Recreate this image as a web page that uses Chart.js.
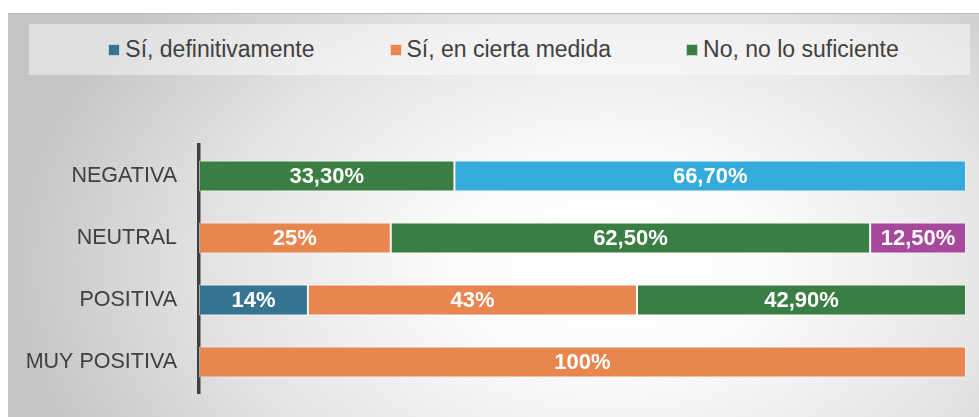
<!DOCTYPE html>
<html>
<head>
<meta charset="utf-8">
<script src="https://cdn.jsdelivr.net/npm/chart.js@4.4.1/dist/chart.umd.min.js"></script>
<style>
  html, body { margin: 0; padding: 0; background: #ffffff; }
  body { width: 979px; height: 417px; position: relative; overflow: hidden; font-family: "Liberation Sans", Arial, sans-serif; }
  #frame {
    position: absolute; left: 8px; top: 13px; width: 971px; height: 404px;
    background: radial-gradient(ellipse 62% 100% at 62% 62%, #ffffff 0%, #fcfcfc 25%, #e4e4e4 65%, #c5c5c5 100%);
    border-top: 1px solid #bcbcbc;
    box-sizing: border-box;
    overflow: hidden;
  }
  #legendBox {
    position: absolute; left: 21px; top: 10px; width: 941px; height: 51px;
    background: rgba(255,255,255,0.45);
    display: flex; align-items: center; justify-content: center; gap: 75px;
    padding-left: 8px; box-sizing: border-box;
  }
  .item { display: flex; align-items: center; font-size: 23px; color: #404040; white-space: nowrap; }
  .sw { width: 12px; height: 12px; margin-right: 5px; border: 1px solid rgba(255,255,255,0.7); box-sizing: border-box; }
  #c { position: absolute; left: 0; top: 0; }
</style>
</head>
<body>
<div id="frame">
  <div id="legendBox"></div>
  <canvas id="c" width="971" height="414"></canvas>
</div>
<script>
// ---- data ----
const categories = ["NEGATIVA", "NEUTRAL", "POSITIVA", "MUY POSITIVA"];
const seriesNames = ["Sí, definitivamente", "Sí, en cierta medida", "No, no lo suficiente", "Serie 4", "Serie 5"];
const defValues   = [null, null, 14.2, null];
const medValues   = [null, 25, 42.9, 100];
const noValues    = [33.3, 62.5, 42.9, null];
const s4Values    = [66.7, null, null, null];
const s5Values    = [null, 12.5, null, null];
const defLabels   = [null, null, "14%", null];
const medLabels   = [null, "25%", "43%", "100%"];
const noLabels    = ["33,30%", "62,50%", "42,90%", null];
const s4Labels    = ["66,70%", null, null, null];
const s5Labels    = [null, "12,50%", null, null];
const legendCount = 3;

// ---- styles ----
const colors = ["#357592", "#e9854f", "#3a7e44", "#33abdb", "#a6489b"];
const allValues = [defValues, medValues, noValues, s4Values, s5Values];
const allLabels = [defLabels, medLabels, noLabels, s4Labels, s5Labels];

const datasets = allValues.map((vals, i) => ({
  label: seriesNames[i],
  data: vals,
  backgroundColor: colors[i],
  borderColor: "rgba(255,255,255,0.55)",
  borderWidth: 1,
  borderSkipped: false,
  barPercentage: 0.5,
  categoryPercentage: 1.0,
  valueLabels: allLabels[i]
}));

// HTML legend (first three series)
const lb = document.getElementById("legendBox");
for (let i = 0; i < legendCount; i++) {
  const it = document.createElement("div");
  it.className = "item";
  const sw = document.createElement("span");
  sw.className = "sw";
  sw.style.background = colors[i];
  const tx = document.createElement("span");
  tx.textContent = seriesNames[i];
  it.appendChild(sw); it.appendChild(tx);
  lb.appendChild(it);
}

const valueLabelPlugin = {
  id: "valueLabels",
  afterDatasetsDraw(chart) {
    const ctx = chart.ctx;
    ctx.save();
    ctx.font = "bold 22px 'Liberation Sans', Arial, sans-serif";
    ctx.fillStyle = "#ffffff";
    ctx.textAlign = "center";
    ctx.textBaseline = "middle";
    chart.data.datasets.forEach((ds, di) => {
      const meta = chart.getDatasetMeta(di);
      meta.data.forEach((el, j) => {
        const t = ds.valueLabels[j];
        if (t == null || ds.data[j] == null) return;
        const p = el.getProps(["x", "y", "base"], true);
        ctx.fillText(t, (p.x + p.base) / 2, p.y + 1);
      });
    });
    ctx.restore();
  }
};

new Chart(document.getElementById("c"), {
  type: "bar",
  data: { labels: categories, datasets },
  options: {
    indexAxis: "y",
    responsive: false,
    animation: false,
    devicePixelRatio: 1,
    layout: { padding: { left: 0, right: 13, top: 131, bottom: 34 } },
    plugins: { legend: { display: false }, tooltip: { enabled: false } },
    scales: {
      x: { stacked: true, min: 0, max: 100, display: false },
      y: {
        stacked: true,
        grid: { display: false, drawTicks: false },
        border: { display: true, color: "#404040", width: 3.5 },
        ticks: { color: "#404040", padding: 22, font: { size: 21.5, family: "'Liberation Sans', Arial, sans-serif" } },
        afterFit(scale) { scale.width = 191; }
      }
    }
  },
  plugins: [valueLabelPlugin]
});
</script>
</body>
</html>
